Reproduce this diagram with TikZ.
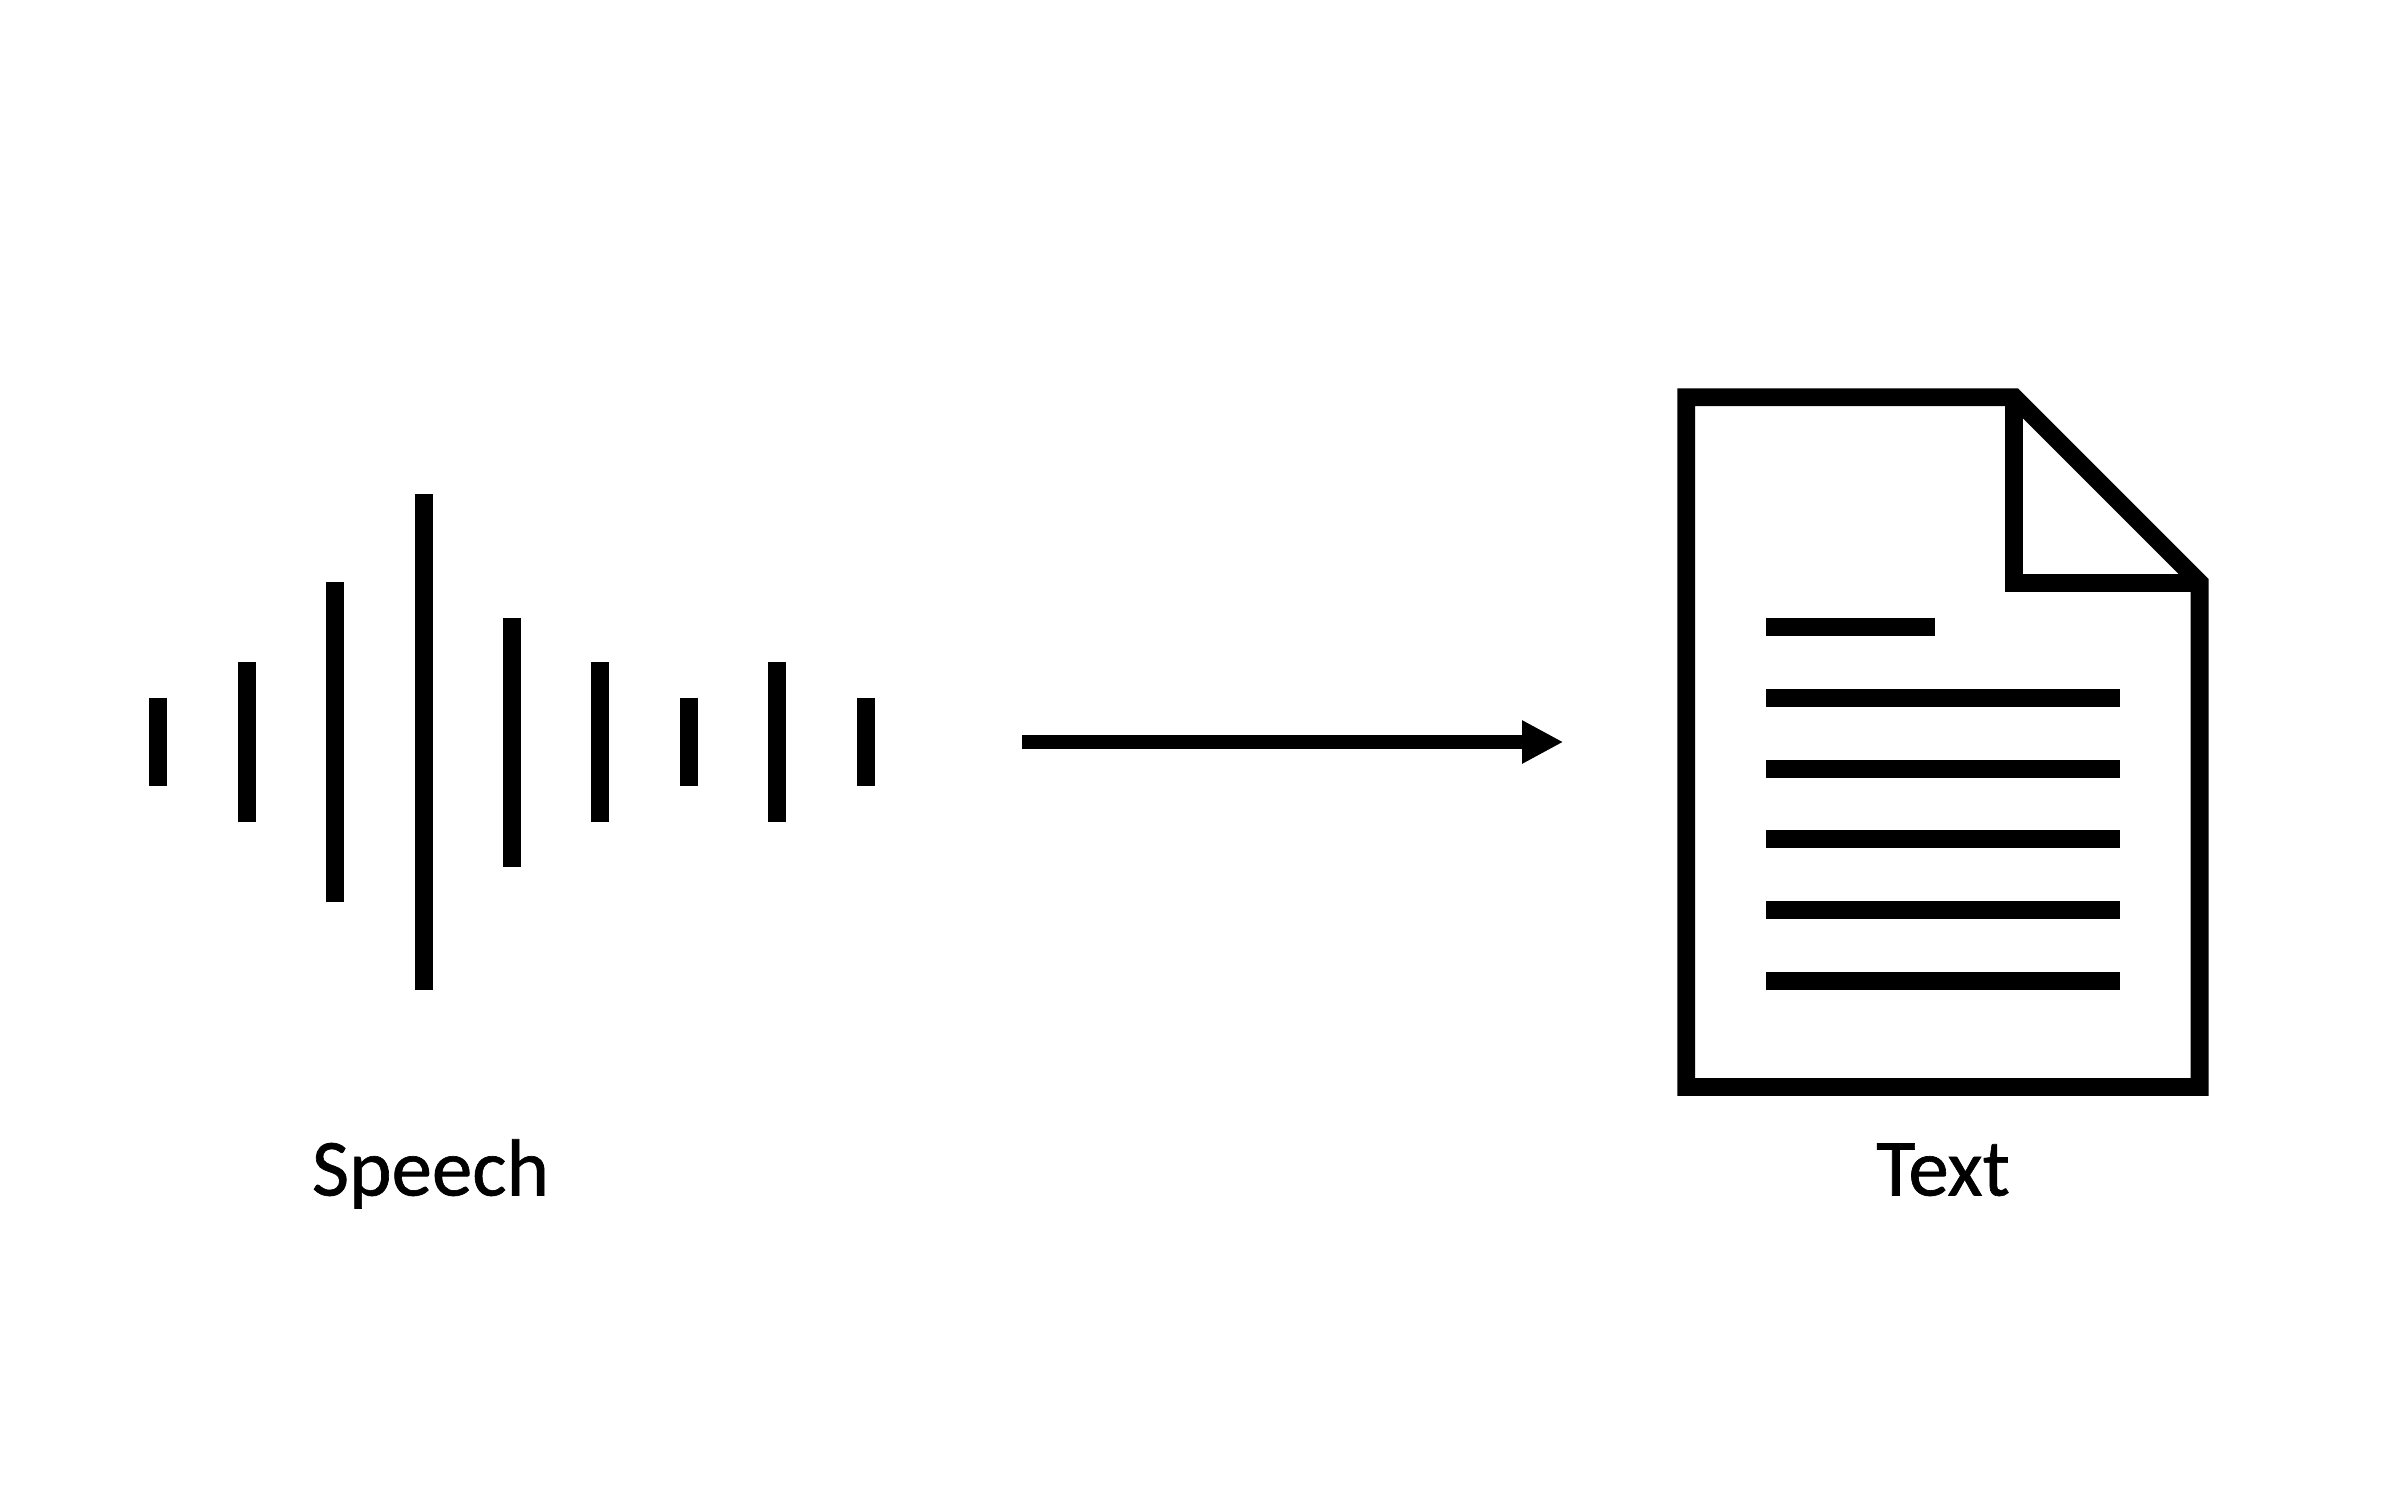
\documentclass[tikz,border=0pt]{standalone}
\usepackage{fontspec}
\setmainfont{Carlito}[FakeBold=0.8]
\usetikzlibrary{arrows.meta}
\tikzset{
  wavebar/.style={fill=black,draw=none},
  docline/.style={draw=black,line width=17.8pt,line join=miter,miter limit=10},
  textrule/.style={draw=black,line width=18pt},
  flowarrow/.style={draw=black,line width=14pt,-{Triangle[length=41.3pt,width=40.5pt]}},
  caption/.style={inner sep=0pt,anchor=base,font=\fontsize{81}{96}\selectfont,text=black}
}
\begin{document}
\begin{tikzpicture}[x=1pt,y=-1pt]
\useasboundingbox (0,0) rectangle (2392,1485);
\fill[white] (0,0) rectangle (2392,1485);
% sound wave: centre x / half height
\foreach \cx/\hh in {158/44.3,246.5/80,335/159.8,423.5/248,511.9/124.5,600.3/80,688.7/44.3,777.1/80,865.6/44.3}{
  \fill[wavebar] (\cx-9,742.1-\hh) rectangle (\cx+9,742.1+\hh);
}
\node[caption] (speech) at (430.5,1195.5) {Speech};
% arrow
\coordinate (arrowstart) at (1022,742);
\coordinate (arrowend) at (1563.3,742);
\draw[flowarrow] (arrowstart) -- (arrowend);
% document
\coordinate (tl) at (1686.2,397.2);
\coordinate (fa) at (2014.3,397.2);
\coordinate (fb) at (2199.6,582.5);
\coordinate (br) at (2199.6,1087);
\coordinate (bl) at (1686.2,1087);
\coordinate (fc) at (2014.3,583.2);
\coordinate (fd) at (2199.6,583.2);
\draw[docline] (tl) -- (fa) -- (fb) -- (br) -- (bl) -- cycle;
\draw[docline] (fa) -- (fc) -- (fd);
\draw[textrule] (1766.3,627.3) -- (1934.8,627.3);
\foreach \ly in {698,768.7,839.4,910.1,980.8}{
  \draw[textrule] (1766.3,\ly) -- (2120,\ly);
}
\node[caption] (text) at (1943,1195.5) {Text};
\end{tikzpicture}
\end{document}
